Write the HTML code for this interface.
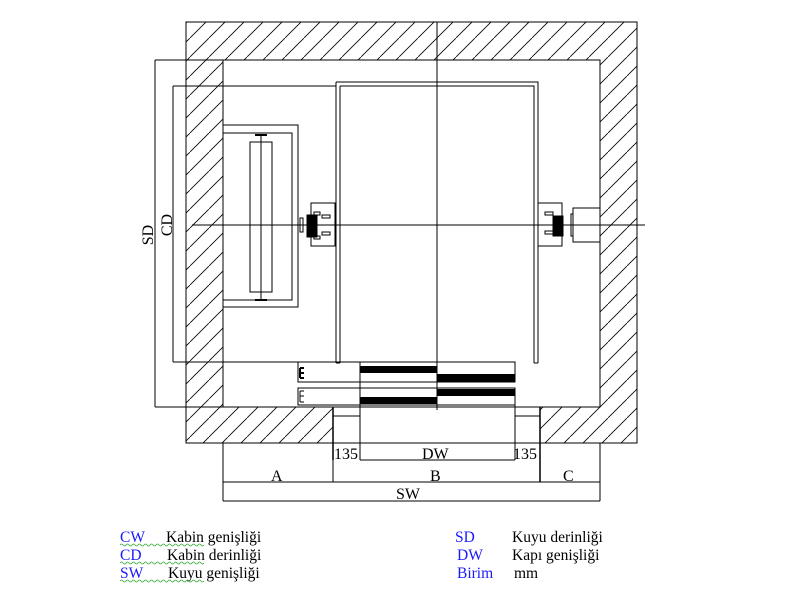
<!DOCTYPE html>
<html><head><style>body{margin:0;background:#fff}svg{display:block}</style></head><body>
<svg width="800" height="600" viewBox="0 0 800 600" xmlns="http://www.w3.org/2000/svg" font-family="Liberation Serif, serif">
<defs>
<pattern id="h" patternUnits="userSpaceOnUse" width="19" height="19">
<path d="M-2,21 L21,-2" stroke="#000" stroke-width="0.8"/>
</pattern>
</defs>
<g stroke="#000" stroke-width="1" fill="none">
<path d="M186,22 H637 V443 H540 V407 H600 V60 H223 V407 H333 V443 H186 Z" fill="url(#h)"/>
<line x1="333" y1="407" x2="540" y2="407"/>
<line x1="333" y1="407" x2="333" y2="460" stroke-width="1.5"/>
<line x1="540" y1="407" x2="540" y2="460" stroke-width="1.5"/>
<line x1="333" y1="416" x2="360" y2="416"/>
<line x1="515" y1="416" x2="540" y2="416"/>
<line x1="360" y1="405" x2="360" y2="460"/>
<line x1="515" y1="405" x2="515" y2="460"/>
<line x1="333" y1="443" x2="540" y2="443"/>
<line x1="155" y1="60" x2="223" y2="60"/>
<line x1="155" y1="60" x2="155" y2="407"/>
<line x1="155" y1="407" x2="223" y2="407"/>
<line x1="173" y1="86" x2="336" y2="86"/>
<line x1="173" y1="86" x2="173" y2="362"/>
<line x1="173" y1="362" x2="336" y2="362"/>
<path d="M336,82 H538 V363 M336,82 V363"/>
<path d="M340,86 H534 V363 M340,86 V363"/>
<line x1="336" y1="363" x2="340" y2="363"/>
<line x1="534" y1="363" x2="538" y2="363"/>
<line x1="437" y1="22" x2="437" y2="410"/>
<line x1="192" y1="225" x2="645" y2="225"/>
<path d="M223,125 H298 V307 H223"/>
<path d="M223,133 H292 V300 H223"/>
<rect x="250" y="142" width="22" height="150"/>
<line x1="261" y1="135" x2="261" y2="300"/>
<line x1="255" y1="135" x2="267" y2="135" stroke-width="2"/>
<line x1="255" y1="300" x2="267" y2="300" stroke-width="2"/>
<rect x="311" y="203" width="24" height="43"/>
<rect x="300" y="218" width="3" height="14"/>
<rect x="307" y="215" width="10" height="22" fill="#000"/>
<rect x="314" y="212" width="6" height="3"/>
<rect x="314" y="236" width="6" height="3"/>
<rect x="322" y="215" width="8" height="3"/>
<rect x="322" y="232" width="8" height="3"/>
<rect x="538" y="203" width="24" height="43"/>
<rect x="553" y="216" width="10" height="20" fill="#000"/>
<rect x="545" y="212" width="8" height="3"/>
<rect x="545" y="231" width="8" height="3"/>
<rect x="573" y="208" width="27" height="34"/>
<rect x="571" y="214" width="2" height="22"/>
<rect x="298" y="362" width="217" height="20"/>
<rect x="298" y="388" width="217" height="17"/>
<line x1="360" y1="362" x2="360" y2="405"/>
<path d="M300,368 V378 M300,373 H304 M300,368 H304 M300,378 H304" stroke-width="2"/>
<path d="M300,391 V402 M300,396 H304 M300,391 H304 M300,402 H304" stroke-width="1"/>
</g>
<g fill="#000">
<rect x="360" y="366" width="77" height="7"/>
<rect x="360" y="397" width="77" height="7"/>
<rect x="437" y="374" width="78" height="8"/>
<rect x="437" y="389" width="78" height="7"/>
</g>
<g stroke="#000" stroke-width="1" fill="none">
<line x1="360" y1="460" x2="515" y2="460"/>
<line x1="223" y1="443" x2="223" y2="501"/>
<line x1="600" y1="443" x2="600" y2="501"/>
<line x1="223" y1="482" x2="600" y2="482"/>
<line x1="333" y1="460" x2="333" y2="482"/>
<line x1="540" y1="460" x2="540" y2="482" stroke-width="1.5"/>
<line x1="223" y1="501" x2="600" y2="501"/>
</g>
<g font-size="16" fill="#000">
<text x="334" y="459">135</text>
<text x="422" y="459">DW</text>
<text x="513" y="459">135</text>
<text x="271" y="481">A</text>
<text x="430" y="481">B</text>
<text x="563" y="481">C</text>
<text x="396" y="499">SW</text>
<text transform="translate(153,235) rotate(-90)" text-anchor="middle">SD</text>
<text transform="translate(172,225) rotate(-90)" text-anchor="middle">CD</text>
</g>
<g font-size="15.5">
<text x="120" y="542" fill="#1a1aff">CW</text>
<text x="120" y="560" fill="#1a1aff">CD</text>
<text x="120" y="578" fill="#1a1aff">SW</text>
<text x="166" y="542">Kabin genişliği</text>
<text x="167" y="560">Kabin derinliği</text>
<text x="168" y="578">Kuyu genişliği</text>
<text x="455" y="542" fill="#1a1aff">SD</text>
<text x="457" y="560" fill="#1a1aff">DW</text>
<text x="457" y="578" fill="#1a1aff">Birim</text>
<text x="512" y="542">Kuyu derinliği</text>
<text x="512" y="560">Kapı genişliği</text>
<text x="514" y="578">mm</text>
</g>
<g stroke="#3a3" stroke-width="0.8" fill="none">
<path d="M120,545 q1.5,-2 3,0 t3,0 t3,0 t3,0 t3,0 t3,0 t3,0 t3,0 t3,0 t3,0 t3,0 t3,0 t3,0 t3,0 t3,0 t3,0 t3,0 t3,0 t3,0 t3,0 t3,0 t3,0 t3,0 t3,0 t3,0 t3,0 t3,0 t3,0"/>
<path d="M120,563 q1.5,-2 3,0 t3,0 t3,0 t3,0 t3,0 t3,0 t3,0 t3,0 t3,0 t3,0 t3,0 t3,0 t3,0 t3,0 t3,0 t3,0 t3,0 t3,0 t3,0 t3,0 t3,0 t3,0 t3,0 t3,0 t3,0 t3,0 t3,0 t3,0"/>
<path d="M120,581 q1.5,-2 3,0 t3,0 t3,0 t3,0 t3,0 t3,0 t3,0 t3,0 t3,0 t3,0 t3,0 t3,0 t3,0 t3,0 t3,0 t3,0 t3,0 t3,0 t3,0 t3,0 t3,0 t3,0 t3,0 t3,0 t3,0 t3,0 t3,0 t3,0"/>
</g>
</svg>
</body></html>
